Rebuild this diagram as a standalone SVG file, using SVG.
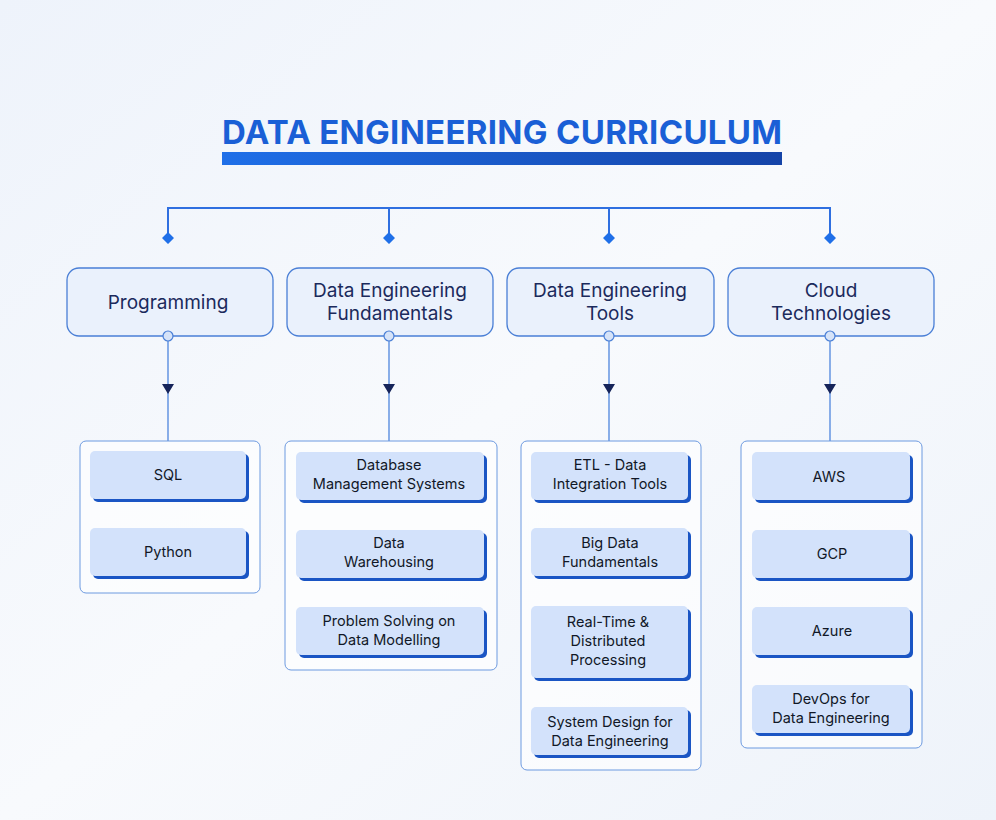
<svg xmlns="http://www.w3.org/2000/svg" width="996" height="820" viewBox="0 0 996 820">
<defs>
<linearGradient id="bg" x1="0" y1="0" x2="1" y2="1"><stop offset="0" stop-color="#eef3fb"/><stop offset="0.5" stop-color="#f8fafd"/><stop offset="1" stop-color="#eef3fa"/></linearGradient>
<linearGradient id="bar" x1="0" y1="0" x2="1" y2="0"><stop offset="0" stop-color="#1f6fe8"/><stop offset="1" stop-color="#1544a8"/></linearGradient>
</defs>
<style>
.hd{fill:#eaf1fc;stroke:#4a7fd6;stroke-width:1.3}
.ht{font-family:Inter,"Liberation Sans",sans-serif;font-size:19px;fill:#1b2a5c;text-anchor:middle}
.ct{fill:#ffffff;fill-opacity:0.6;stroke:#6d9ae0;stroke-width:1}
.sh{fill:#1a55c4}
.it{fill:#d3e2fb}
.tt{font-family:Inter,"Liberation Sans",sans-serif;font-size:14.5px;fill:#111827;text-anchor:middle}
.ln{stroke:#2f6fe0;stroke-width:2;fill:none}
.vl{stroke:#4f86de;stroke-width:1.3;fill:none}
.dm{fill:#1f6fe8}
.cc{fill:#d6e3f8;stroke:#4a7fd6;stroke-width:1.2}
</style>
<rect width="996" height="820" fill="url(#bg)"/>
<text x="502" y="144" font-family="Inter,'Liberation Sans',sans-serif" font-size="33" font-weight="bold" fill="#1a5fd6" text-anchor="middle" textLength="560">DATA ENGINEERING CURRICULUM</text>
<rect x="222" y="152" width="560" height="13" fill="url(#bar)"/>
<g id="connectors">
<path class="ln" d="M168,238 V208 H830 V238 M389,208 V238 M609,208 V238"/>
<path class="dm" d="M168,232 l6,6 l-6,6 l-6,-6z M389,232 l6,6 l-6,6 l-6,-6z M609,232 l6,6 l-6,6 l-6,-6z M830,232 l6,6 l-6,6 l-6,-6z"/>
<path class="vl" d="M168,336 V441 M389,336 V441 M609,336 V441 M830,336 V441"/>
<path d="M162,384 h12 l-6,10z M383,384 h12 l-6,10z M603,384 h12 l-6,10z M824,384 h12 l-6,10z" fill="#16245a"/>
</g>
<g id="h1"><rect class="hd" x="67" y="268" width="206" height="68" rx="12"/><text class="ht" x="168" y="309">Programming</text><circle class="cc" cx="168" cy="336" r="5"/></g>
<g id="h2"><rect class="hd" x="287" y="268" width="206" height="68" rx="12"/><text class="ht" x="390" y="297">Data Engineering</text><text class="ht" x="390" y="320">Fundamentals</text><circle class="cc" cx="389" cy="336" r="5"/></g>
<g id="h3"><rect class="hd" x="507" y="268" width="207" height="68" rx="12"/><text class="ht" x="610" y="297">Data Engineering</text><text class="ht" x="610" y="320">Tools</text><circle class="cc" cx="609" cy="336" r="5"/></g>
<g id="h4"><rect class="hd" x="728" y="268" width="206" height="68" rx="12"/><text class="ht" x="831" y="297">Cloud</text><text class="ht" x="831" y="320">Technologies</text><circle class="cc" cx="830" cy="336" r="5"/></g>
<g id="c1"><rect class="ct" x="80" y="441" width="180" height="152" rx="6"/>
<rect class="sh" x="93" y="454" width="156" height="48" rx="5"/><rect class="it" x="90" y="451" width="156" height="48" rx="5"/><text class="tt" x="168" y="480">SQL</text>
<rect class="sh" x="93" y="531" width="156" height="48" rx="5"/><rect class="it" x="90" y="528" width="156" height="48" rx="5"/><text class="tt" x="168" y="557">Python</text></g>
<g id="c2"><rect class="ct" x="285" y="441" width="212" height="229" rx="6"/>
<rect class="sh" x="299" y="455" width="188" height="48" rx="5"/><rect class="it" x="296" y="452" width="188" height="48" rx="5"/><text class="tt" x="389" y="470">Database</text><text class="tt" x="389" y="489">Management Systems</text>
<rect class="sh" x="299" y="533" width="188" height="48" rx="5"/><rect class="it" x="296" y="530" width="188" height="48" rx="5"/><text class="tt" x="389" y="548">Data</text><text class="tt" x="389" y="567">Warehousing</text>
<rect class="sh" x="299" y="610" width="188" height="48" rx="5"/><rect class="it" x="296" y="607" width="188" height="48" rx="5"/><text class="tt" x="389" y="626">Problem Solving on</text><text class="tt" x="389" y="645">Data Modelling</text></g>
<g id="c3"><rect class="ct" x="521" y="441" width="180" height="329" rx="6"/>
<rect class="sh" x="534" y="455" width="157" height="48" rx="5"/><rect class="it" x="531" y="452" width="157" height="48" rx="5"/><text class="tt" x="610" y="470">ETL - Data</text><text class="tt" x="610" y="489">Integration Tools</text>
<rect class="sh" x="534" y="531" width="157" height="48" rx="5"/><rect class="it" x="531" y="528" width="157" height="48" rx="5"/><text class="tt" x="610" y="548">Big Data</text><text class="tt" x="610" y="567">Fundamentals</text>
<rect class="sh" x="534" y="609" width="157" height="72" rx="5"/><rect class="it" x="531" y="606" width="157" height="72" rx="5"/><text class="tt" x="608" y="627">Real-Time &amp;</text><text class="tt" x="608" y="646">Distributed</text><text class="tt" x="608" y="665">Processing</text>
<rect class="sh" x="534" y="710" width="157" height="48" rx="5"/><rect class="it" x="531" y="707" width="157" height="48" rx="5"/><text class="tt" x="610" y="727">System Design for</text><text class="tt" x="610" y="746">Data Engineering</text></g>
<g id="c4"><rect class="ct" x="741" y="441" width="181" height="307" rx="6"/>
<rect class="sh" x="755" y="455" width="158" height="48" rx="5"/><rect class="it" x="752" y="452" width="158" height="48" rx="5"/><text class="tt" x="829" y="482">AWS</text>
<rect class="sh" x="755" y="533" width="158" height="48" rx="5"/><rect class="it" x="752" y="530" width="158" height="48" rx="5"/><text class="tt" x="832" y="559">GCP</text>
<rect class="sh" x="755" y="610" width="158" height="48" rx="5"/><rect class="it" x="752" y="607" width="158" height="48" rx="5"/><text class="tt" x="832" y="636">Azure</text>
<rect class="sh" x="755" y="688" width="158" height="48" rx="5"/><rect class="it" x="752" y="685" width="158" height="48" rx="5"/><text class="tt" x="831" y="704">DevOps for</text><text class="tt" x="831" y="723">Data Engineering</text></g>
</svg>
